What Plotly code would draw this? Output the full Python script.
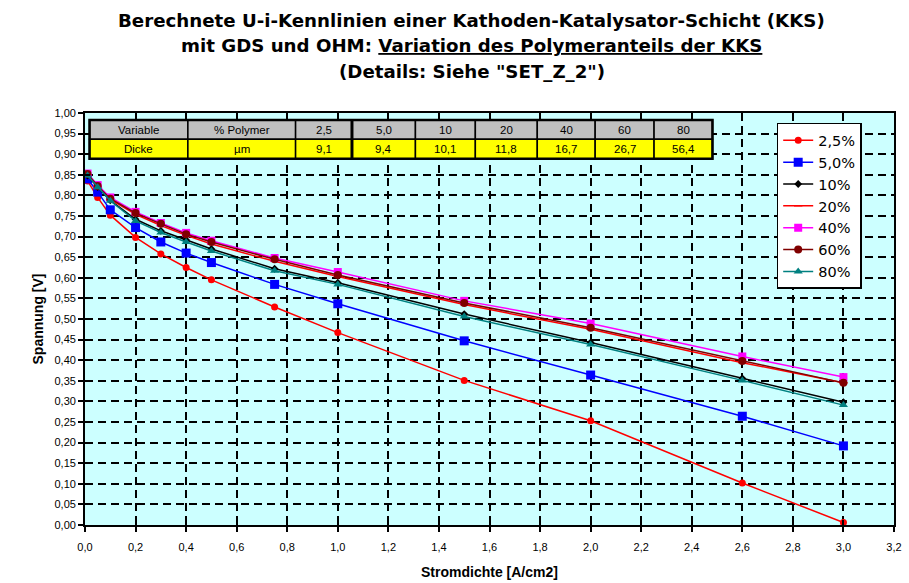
import plotly.graph_objects as go

# Current density [A/cm2]
stromdichte = [0.01, 0.05, 0.1, 0.2, 0.3, 0.4, 0.5, 0.75, 1.0, 1.5, 2.0, 2.6, 3.0]

# Cell voltage [V] per polymer fraction of the cathode catalyst layer
u_2_5 = [0.835, 0.795, 0.752, 0.698, 0.658, 0.625, 0.595, 0.529, 0.467, 0.351, 0.253, 0.102, 0.006]
u_5_0 = [0.840, 0.808, 0.765, 0.722, 0.687, 0.660, 0.637, 0.584, 0.537, 0.447, 0.364, 0.264, 0.192]
u_10 = [0.848, 0.820, 0.788, 0.742, 0.714, 0.692, 0.670, 0.622, 0.588, 0.512, 0.443, 0.356, 0.298]
u_20 = [0.850, 0.822, 0.790, 0.754, 0.727, 0.703, 0.682, 0.640, 0.603, 0.535, 0.475, 0.394, 0.345]
u_40 = [0.853, 0.825, 0.795, 0.760, 0.733, 0.709, 0.690, 0.648, 0.614, 0.544, 0.489, 0.409, 0.359]
u_60 = [0.852, 0.823, 0.792, 0.757, 0.731, 0.706, 0.687, 0.645, 0.607, 0.539, 0.479, 0.398, 0.345]
u_80 = [0.848, 0.820, 0.787, 0.738, 0.710, 0.687, 0.665, 0.617, 0.584, 0.506, 0.438, 0.351, 0.291]

serien_namen = ["2,5%", "5,0%", "10%", "20%", "40%", "60%", "80%"]
serien_werte = [u_2_5, u_5_0, u_10, u_20, u_40, u_60, u_80]
serien_farben = ["#FF0000", "#0000FF", "#000000", "#FF0000", "#FF00FF", "#800000", "#008080"]
serien_symbole = ["circle", "square", "diamond", "line-ew-open", "square", "circle", "triangle-up"]
serien_groesse = [7, 9, 6, 6, 8, 8, 8]

# Info table above the curves
tabelle_kopf = ["Variable", "% Polymer", "2,5", "5,0", "10", "20", "40", "60", "80"]
tabelle_zeile = ["Dicke", "µm", "9,1", "9,4", "10,1", "11,8", "16,7", "26,7", "56,4"]
tabelle_spalten = [0.018, 0.407, 0.833, 1.056, 1.307, 1.544, 1.789, 2.018, 2.251, 2.482]
tabelle_y = [0.983, 0.936, 0.889]

FONT = "Liberation Sans, Arial, sans-serif"
FONT_BREIT = "DejaVu Sans, Verdana, sans-serif"

fig = go.Figure()

for name, werte, farbe, sym, gr in zip(serien_namen, serien_werte, serien_farben,
                                      serien_symbole, serien_groesse):
    fig.add_trace(go.Scatter(
        x=stromdichte, y=werte, name=name, mode="lines+markers",
        line=dict(color=farbe, width=1.5),
        marker=dict(symbol=sym, size=gr, color=farbe,
                    line=dict(color=farbe, width=1.5 if sym.startswith("line") else 0)),
    ))

# Secondary axes only to draw inward tick marks (crossing ticks)
fig.add_trace(go.Scatter(x=[0], y=[0], xaxis="x2", yaxis="y2", mode="markers",
                         marker=dict(opacity=0), showlegend=False, hoverinfo="skip"))

shapes = []
annotations = []

# Table cells
for i in range(len(tabelle_spalten) - 1):
    x0, x1 = tabelle_spalten[i], tabelle_spalten[i + 1]
    for r, (farbe, texte) in enumerate([("#C0C0C0", tabelle_kopf), ("#FFFF00", tabelle_zeile)]):
        y0, y1 = tabelle_y[r + 1], tabelle_y[r]
        shapes.append(dict(type="rect", xref="x", yref="y", x0=x0, x1=x1, y0=y0, y1=y1,
                           fillcolor=farbe, line=dict(color="#000000", width=1.5), layer="above"))
        annotations.append(dict(xref="x", yref="y", x=(x0 + x1) / 2, y=(y0 + y1) / 2,
                                text=texte[i], showarrow=False,
                                font=dict(family=FONT, size=11.5, color="#000000")))
# Heavier separator between first two value columns
shapes.append(dict(type="line", xref="x", yref="y", x0=tabelle_spalten[3], x1=tabelle_spalten[3],
                   y0=tabelle_y[2], y1=tabelle_y[0], line=dict(color="#000000", width=3), layer="above"))
shapes.append(dict(type="rect", xref="x", yref="y", x0=tabelle_spalten[0], x1=tabelle_spalten[-1],
                   y0=tabelle_y[2], y1=tabelle_y[0], line=dict(color="#000000", width=2.5), layer="above"))

# Title lines
titel = [
    "Berechnete U-i-Kennlinien einer Kathoden-Katalysator-Schicht (KKS)",
    "mit GDS und OHM: <u>Variation des Polymeranteils der KKS</u>",
    "(Details: Siehe \"SET_Z_2\")",
]
for k, zeile in enumerate(titel):
    annotations.append(dict(xref="paper", yref="paper", x=0.478, y=1 + (113 - (20 + 26 * k)) / 412,
                            yanchor="middle", xanchor="center", text="<b>" + zeile + "</b>",
                            showarrow=False, font=dict(family=FONT_BREIT, size=18.2, color="#000000")))

achsen_stil = dict(
    showgrid=True, gridcolor="#000000", gridwidth=1.5, griddash="8px,5px",
    showline=True, linecolor="#000000", linewidth=1.8, mirror=True,
    ticks="outside", ticklen=5, tickwidth=1.5, tickcolor="#000000",
    zeroline=False, automargin=False,
    tickfont=dict(family=FONT, size=11, color="#000000"),
)

fig.update_layout(
    width=909, height=583,
    margin=dict(l=84.5, r=15, t=113, b=58),
    paper_bgcolor="#FFFFFF",
    plot_bgcolor="#CCFFFF",
    separators=",.",
    font=dict(family=FONT, size=11, color="#000000"),
    showlegend=True,
    legend=dict(x=0.855, y=0.976, xanchor="left", yanchor="top",
                bgcolor="#FFFFFF", bordercolor="#000000", borderwidth=1.5,
                font=dict(family=FONT_BREIT, size=14.5, color="#000000"),
                tracegroupgap=0, itemwidth=30),
    xaxis=dict(range=[0, 3.2], dtick=0.2, tick0=0, tickformat=".1f",
               ticklabelstandoff=6,
               title=dict(text="<b>Stromdichte [A/cm2]</b>", standoff=15,
                          font=dict(family=FONT, size=14, color="#000000")),
               **achsen_stil),
    yaxis=dict(range=[0, 1.0], dtick=0.05, tick0=0, tickformat=".2f",
               title=dict(text="<b>Spannung [V]</b>", standoff=8,
                          font=dict(family=FONT, size=14, color="#000000")),
               **achsen_stil),
    xaxis2=dict(overlaying="x", range=[0, 3.2], dtick=0.2, tick0=0, side="bottom",
                ticks="inside", ticklen=5, tickwidth=1.5, tickcolor="#000000",
                showticklabels=False, showgrid=False, zeroline=False, showline=False),
    yaxis2=dict(overlaying="y", range=[0, 1.0], dtick=0.05, tick0=0, side="left",
                ticks="inside", ticklen=5, tickwidth=1.5, tickcolor="#000000",
                showticklabels=False, showgrid=False, zeroline=False, showline=False),
    shapes=shapes,
    annotations=annotations,
)

fig.write_html("out.html")
